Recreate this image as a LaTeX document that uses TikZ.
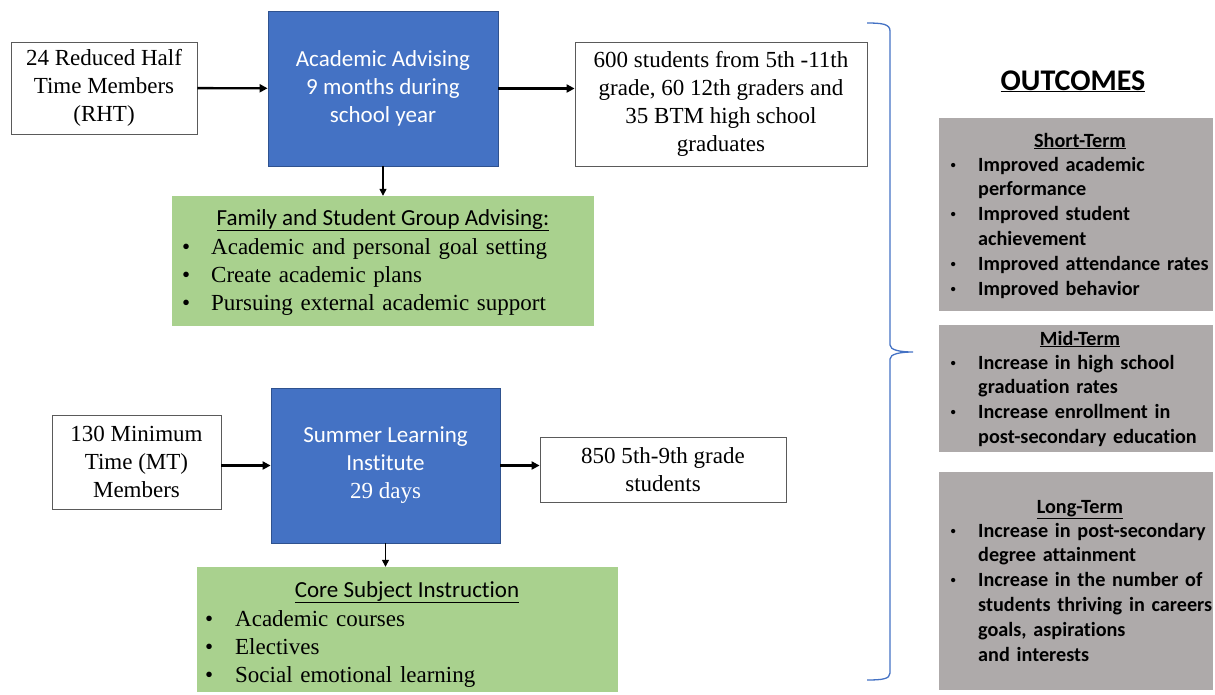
\documentclass[tikz,border=0pt]{standalone}
\usepackage{fontspec}
\setmainfont{Liberation Serif}
\setsansfont[Ligatures=NoCommon]{Carlito}
\usetikzlibrary{arrows.meta}
\definecolor{advBlue}{HTML}{4472C4}
\definecolor{advBlueEdge}{HTML}{2F528F}
\definecolor{listGreen}{HTML}{A9D18E}
\definecolor{outGray}{HTML}{AEAAAA}
\definecolor{boxEdge}{HTML}{5A5A5A}
\newcommand{\rmboxfont}{\fontsize{23}{28}\selectfont}
\newcommand{\sfboxfont}{\sffamily\fontsize{23}{28}\selectfont}
\newcommand{\outfont}{\sffamily\bfseries\fontsize{20.2}{24.9}\selectfont}
\newcommand{\rbul}[1]{\makebox[#1][l]{\textbullet}}
\newcommand{\gbul}{\makebox[30pt][l]{\hspace*{2pt}{\rmfamily\mdseries\fontsize{18}{18}\selectfont\textbullet}}}
\newcommand{\gcont}{\hspace*{30pt}}
\begin{document}
\begin{tikzpicture}[x=1pt,y=-1pt,
  inbox/.style={draw=boxEdge,line width=0.8pt,fill=white,inner sep=0pt,align=center,font=\rmboxfont},
  actbox/.style={draw=advBlueEdge,line width=0.8pt,fill=advBlue,text=white,inner sep=0pt,align=center,font=\sfboxfont},
  listbox/.style={fill=listGreen,inner sep=0pt},
  outbox/.style={fill=outGray,inner sep=0pt},
  listhead/.style={anchor=base,inner sep=0pt,font=\sfboxfont},
  listtext/.style={anchor=base west,inner sep=0pt,text width=400pt,align=left,font=\rmboxfont},
  outhead/.style={anchor=base,inner sep=0pt,font=\outfont},
  outtext/.style={anchor=base west,inner sep=0pt,text width=320pt,align=left,font=\outfont},
  flow/.style={-{Triangle[length=8pt,width=8pt]},line width=2.4pt},
  drop/.style={-{Triangle[length=7pt,width=7pt]},line width=1.3pt}]
\useasboundingbox (0,0) rectangle (1215,694);
\node[inbox,minimum width=186pt,minimum height=92pt] (rht) at (104,88) {24 Reduced Half\\Time Members\\(RHT)};
\node[actbox,minimum width=230pt,minimum height=155pt] (advising) at (383,88.5) {Academic Advising\\9 months during\\school year};
\node[inbox,minimum width=292pt,minimum height=124pt] (outA) at (721,104) {600 students from 5th -11th\\grade, 60 12th graders and\\35 BTM high school\\graduates};
\node[listbox,minimum width=422pt,minimum height=130pt] (famBox) at (383,261) {};
\node[listhead] (famHead) at (383,225) {\underline{Family and Student Group Advising:}};
\node[listtext] (famList) at (182,254) {\rbul{29pt}Academic and personal goal setting\\\rbul{29pt}Create academic plans\\\rbul{29pt}Pursuing external academic support};
\node[inbox,minimum width=169pt,minimum height=94pt] (mt) at (136.5,462) {130 Minimum\\Time (MT)\\Members};
\node[actbox,minimum width=229pt,minimum height=155pt] (summer) at (385.5,465.5) {Summer Learning\\Institute\\{\rmfamily 29 days}};
\node[inbox,minimum width=246pt,minimum height=65pt] (outB) at (663,469.5) {850 5th-9th grade\\students};
\node[listbox,minimum width=421pt,minimum height=125pt] (coreBox) at (407.5,629.5) {};
\node[listhead] (coreHead) at (407,597) {\underline{Core Subject Instruction}};
\node[listtext] (coreList) at (205,626) {\rbul{30pt}Academic courses\\\rbul{30pt}Electives\\\rbul{30pt}Social emotional learning};
\node[anchor=base,inner sep=0pt,font=\sffamily\bfseries\fontsize{30}{36}\selectfont] (outcomes) at (1073,90) {\underline{OUTCOMES}};
\node[outbox,minimum width=274pt,minimum height=193pt] (shortBox) at (1076,214.5) {};
\node[outhead] (shortHead) at (1080,147) {\underline{Short-Term}};
\node[outtext] (shortList) at (948,171) {\gbul Improved academic\\\gcont performance\\\gbul Improved student\\\gcont achievement\\\gbul Improved attendance rates\\\gbul Improved behavior};
\node[outbox,minimum width=274pt,minimum height=127pt] (midBox) at (1076,388.5) {};
\node[outhead] (midHead) at (1080,345) {\underline{Mid-Term}};
\node[outtext] (midList) at (948,369) {\gbul Increase in high school\\\gcont graduation rates\\\gbul Increase enrollment in\\\gcont post-secondary education};
\node[outbox,minimum width=274pt,minimum height=218pt] (longBox) at (1076,581) {};
\node[outhead] (longHead) at (1080,513) {\underline{Long-Term}};
\node[outtext] (longList) at (948,537) {\gbul Increase in post-secondary\\\gcont degree attainment\\\gbul Increase in the number of\\\gcont students thriving in careers\\\gcont goals, aspirations\\\gcont and interests};
\draw[flow] (rht) -- (advising);
\draw[flow] (advising.east) -- (advising.east -| outA.west);
\draw[drop] (advising) -- (famBox);
\draw[flow] (summer.west -| mt.east) -- (summer.west);
\draw[flow] (summer.east) -- (summer.east -| outB.west);
\draw[drop] (summer.south) -- (summer.south |- coreBox.north);
\coordinate (braceTop) at (867,23);
\coordinate (braceTip) at (913,352);
\coordinate (braceBot) at (867,680);
\draw[advBlue,line width=1.3pt] (braceTop) .. controls (882,23) and (890,24) .. (890,31) -- (890,345) .. controls (890,350) and (900,352) .. (braceTip) .. controls (900,352) and (890,354) .. (890,359) -- (890,673) .. controls (890,679) and (882,680) .. (braceBot);
\end{tikzpicture}
\end{document}
